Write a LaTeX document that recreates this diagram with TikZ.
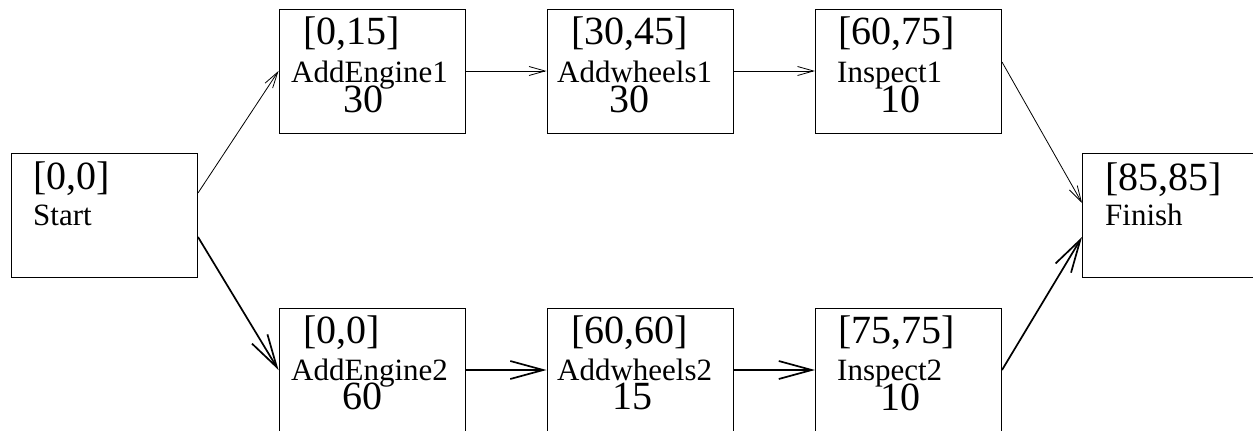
\documentclass[tikz,border=0pt]{standalone}
\usepackage{fontspec}
\setmainfont{Liberation Serif}
\usetikzlibrary{arrows.meta}
\begin{document}
\begin{tikzpicture}[x=1pt,y=-1pt,
  box/.style={draw=black, line width=1pt, minimum width=186pt, minimum height=124pt, inner sep=0pt},
  big/.style={anchor=base west, inner sep=0pt, font=\fontsize{40}{44}\selectfont},
  nm/.style={anchor=base west, inner sep=0pt, font=\fontsize{31}{34}\selectfont},
  flow/.style={line width=0.8pt, -{Straight Barb[length=16pt,width=9pt,line width=0.8pt]}},
  crit/.style={line width=1.7pt, -{Straight Barb[length=33pt,width=18pt,line width=1.7pt]}}]
\useasboundingbox (0,0) rectangle (1253,431);
% boxes
\node[box] (start) at (104.5,215) {};
\node[box] (ae1) at (372,71) {};
\node[box] (aw1) at (640,71) {};
\node[box] (in1) at (908.5,71) {};
\node[box] (fin) at (1175.5,215) {};
\node[box] (ae2) at (372,370) {};
\node[box] (aw2) at (640,370) {};
\node[box] (in2) at (908.5,370) {};
% texts
\node[big] (t1) at (33,189) {[0,0]};
\node[nm] (t2) at (33,225) {Start};
\node[big] (t3) at (303,44) {[0,15]};
\node[nm] (t4) at (291,82) {AddEngine1};
\node[big] (t5) at (343,112) {30};
\node[big] (t6) at (571,44) {[30,45]};
\node[nm] (t7) at (557,82) {Addwheels1};
\node[big] (t8) at (609,112) {30};
\node[big] (t9) at (838,44) {[60,75]};
\node[nm] (t10) at (837,82) {Inspect1};
\node[big] (t11) at (880,112) {10};
\node[big] (t12) at (1105,190) {[85,85]};
\node[nm] (t13) at (1105,225) {Finish};
\node[big] (t14) at (303,343) {[0,0]};
\node[nm] (t15) at (291,380) {AddEngine2};
\node[big] (t16) at (342,409) {60};
\node[big] (t17) at (571,343) {[60,60]};
\node[nm] (t18) at (557,380) {Addwheels2};
\node[big] (t19) at (612,409) {15};
\node[big] (t20) at (838,343) {[75,75]};
\node[nm] (t21) at (837,380) {Inspect2};
\node[big] (t22) at (880,410) {10};
% connectors
\draw[flow] ([yshift=22pt]start.east) -- (ae1.west);
\draw[flow] (ae1.east) -- (aw1.west);
\draw[flow] (aw1.east) -- (in1.west);
\draw[flow] ([yshift=9pt]in1.east) -- ([yshift=12pt]fin.west);
\draw[crit] ([yshift=-22pt]start.east) -- (ae2.west);
\draw[crit] (ae2.east) -- (aw2.west);
\draw[crit] (aw2.east) -- (in2.west);
\draw[crit] (in2.east) -- ([yshift=-22pt]fin.west);
\end{tikzpicture}
\end{document}
